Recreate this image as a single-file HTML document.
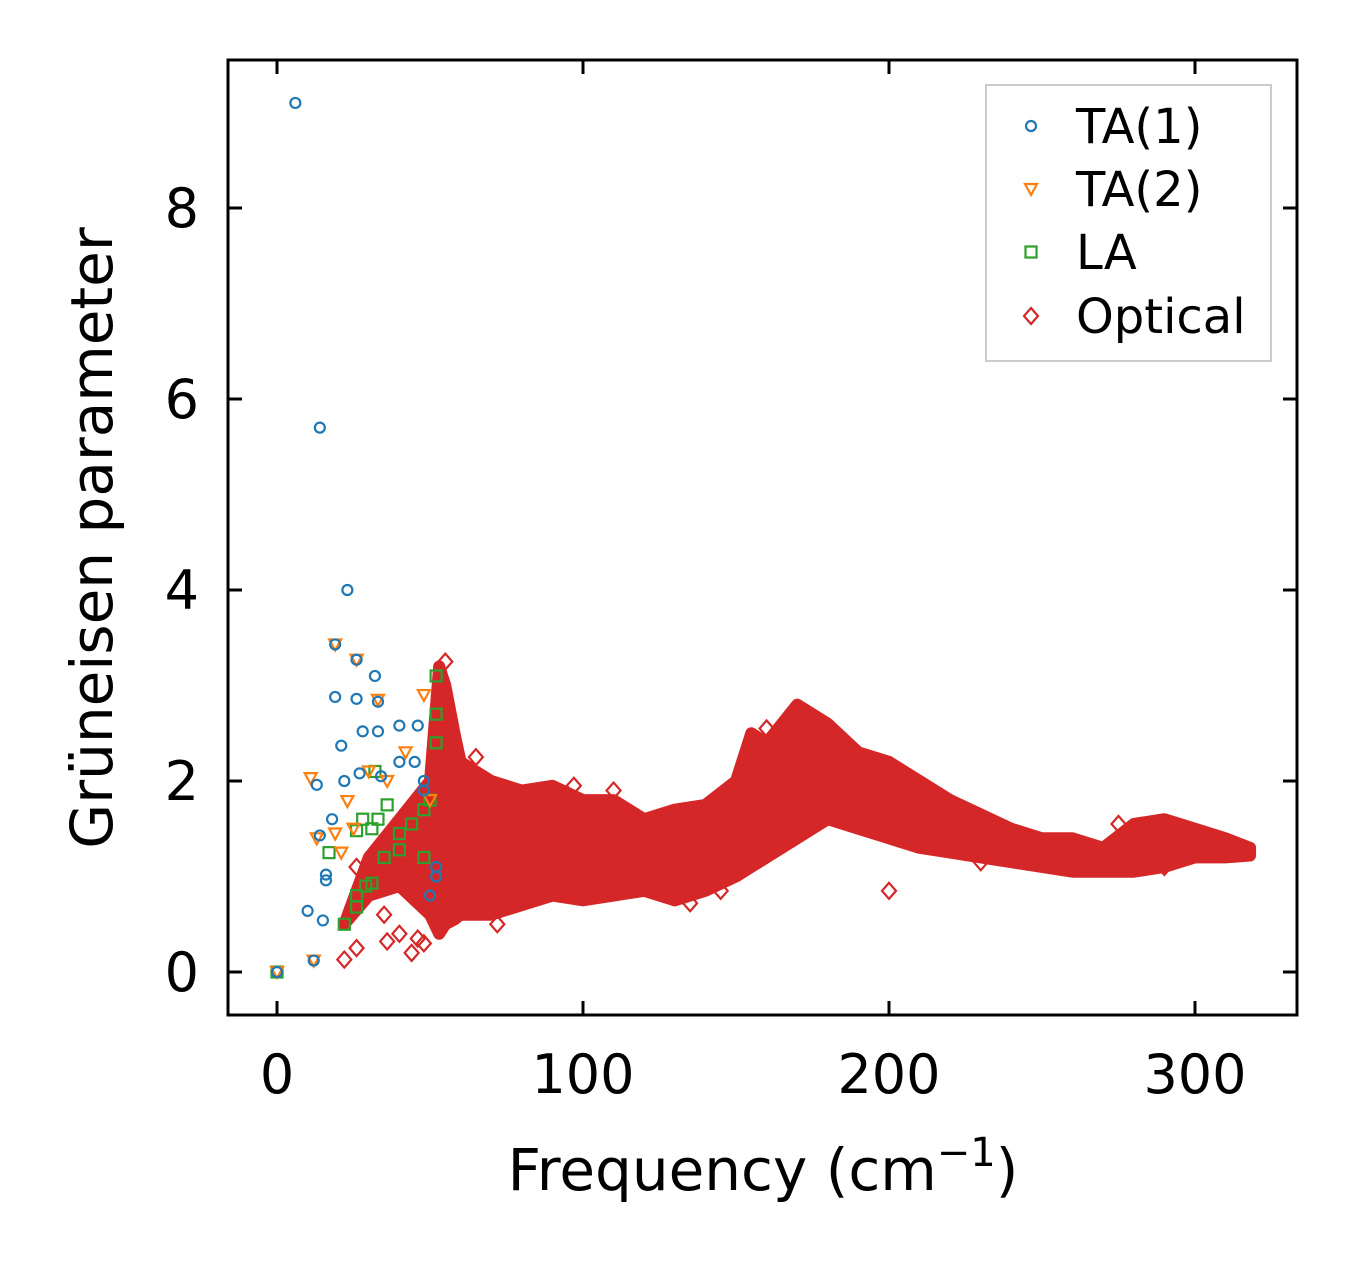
<!DOCTYPE html>
<html><head><meta charset="utf-8"><style>
html,body{margin:0;padding:0;background:#fff;}
svg{display:block;font-family:"DejaVu Sans","Liberation Sans",sans-serif;}
</style></head><body>
<svg id="chart" width="1357" height="1264" viewBox="0 0 1357 1264">
<rect x="0" y="0" width="1357" height="1264" fill="#fff"/>
<g id="plot"></g>
<g id="axes"></g>
<text x="763" y="1190" text-anchor="middle" font-size="58">Frequency (cm<tspan dy="-24" font-size="40">−1</tspan><tspan dy="24">)</tspan></text>
<text transform="translate(112,538) rotate(-90)" text-anchor="middle" font-size="58">Grüneisen parameter</text>
<g>
<rect x="986" y="85" width="285" height="276" fill="#fff" stroke="#ccc" stroke-width="2"/>
<g id="legend-items"></g>
</g>
</svg>
<script>
const xTicks=[0,100,200,300];
const yTicks=[0,2,4,6,8];
const optFreq=[22,30,40,50,53,55,58,60,70,80,90,100,110,120,130,140,150,155,160,170,180,190,200,210,220,230,240,250,260,270,280,290,300,310,318];
const optLow =[0.5,0.8,0.9,0.6,0.4,0.5,0.55,0.6,0.6,0.7,0.8,0.75,0.8,0.85,0.75,0.85,1.0,1.1,1.2,1.4,1.6,1.5,1.4,1.3,1.25,1.2,1.15,1.1,1.05,1.05,1.05,1.1,1.2,1.2,1.22];
const optHigh=[0.5,1.2,1.6,2.0,3.2,3.0,2.5,2.2,2.0,1.9,1.95,1.8,1.8,1.6,1.7,1.75,2.0,2.5,2.4,2.8,2.6,2.3,2.2,2.0,1.8,1.65,1.5,1.4,1.4,1.3,1.55,1.6,1.5,1.4,1.3];
const optPtsX=[22,26,36,40,44,46,35,30,26,25,48,55,65,72,97,110,135,145,160,200,230,275,290];
const optPtsY=[0.13,0.25,0.32,0.4,0.2,0.35,0.6,1.0,1.1,0.7,0.3,3.25,2.25,0.5,1.95,1.9,0.72,0.85,2.55,0.85,1.15,1.55,1.1];
const ta1X=[6,14,23,19,26,19,26,32,33,21,28,33,40,46,13,22,18,14,16,16,10,15,12,0,50,52,48,40,45,34,27,48,52];
const ta1Y=[9.1,5.7,4.0,3.43,3.27,2.88,2.86,3.1,2.83,2.37,2.52,2.52,2.58,2.58,1.96,2.0,1.6,1.43,1.02,0.96,0.64,0.54,0.12,0,0.8,1.1,2.0,2.2,2.2,2.05,2.08,1.9,1.0];
const ta2X=[0,12,11,13,23,21,30,36,42,48,50,25,19,33,19,26];
const ta2Y=[0,0.12,2.03,1.4,1.79,1.25,2.1,2.0,2.3,2.9,1.8,1.5,1.45,2.85,3.43,3.27];
const laX=[0,17,22,26,29,31,26,28,31,33,35,36,40,40,44,48,50,52,52,52,48,32,26];
const laY=[0,1.25,0.5,0.8,0.9,0.93,1.48,1.6,1.5,1.6,1.2,1.75,1.28,1.45,1.55,1.7,1.8,2.7,3.1,2.4,1.2,2.1,0.68];

const L=228,R=1297,T=60,B=1015;
const sx=v=>277+v*3.06, sy=v=>972-v*95.5;
const NS="http://www.w3.org/2000/svg";
const plot=document.getElementById('plot'), axes=document.getElementById('axes');
function mk(tag,attrs,parent){const e=document.createElementNS(NS,tag);for(const k in attrs)e.setAttribute(k,attrs[k]);parent.appendChild(e);return e;}
const C={b:'#1f77b4',o:'#ff7f0e',g:'#2ca02c',r:'#d62728'};
function marker(type,x,y,color,parent){
  let e;
  if(type==='c') e=mk('circle',{cx:x,cy:y,r:5,fill:'none',stroke:color,'stroke-width':2.2},parent);
  else if(type==='t') e=mk('polygon',{points:`${x-6},${y-5} ${x+6},${y-5} ${x},${y+6}`,fill:'none',stroke:color,'stroke-width':2.2},parent);
  else if(type==='s') e=mk('rect',{x:x-5.5,y:y-5.5,width:11,height:11,fill:'none',stroke:color,'stroke-width':2.2},parent);
  else e=mk('polygon',{points:`${x},${y-8} ${x+7},${y} ${x},${y+8} ${x-7},${y}`,fill:'none',stroke:color,'stroke-width':2.2},parent);
  return e;
}
let pts=[];
for(let i=0;i<optFreq.length;i++)pts.push(sx(optFreq[i])+','+sy(optHigh[i]));
for(let i=optFreq.length-1;i>=0;i--)pts.push(sx(optFreq[i])+','+sy(optLow[i]));
const band=mk('polygon',{points:pts.join(' '),fill:C.r,stroke:C.r,'stroke-width':12,'stroke-linejoin':'round'},plot);


for(let i=0;i<optPtsX.length;i++){const m=marker('d',sx(optPtsX[i]),sy(optPtsY[i]),C.r,plot);

}
for(let i=0;i<laX.length;i++){const m=marker('s',sx(laX[i]),sy(laY[i]),C.g,plot);

}
for(let i=0;i<ta2X.length;i++){const m=marker('t',sx(ta2X[i]),sy(ta2Y[i]),C.o,plot);

}
for(let i=0;i<ta1X.length;i++){const m=marker('c',sx(ta1X[i]),sy(ta1Y[i]),C.b,plot);

}
mk('rect',{x:L,y:T,width:R-L,height:B-T,fill:'none',stroke:'#000','stroke-width':3},axes);
xTicks.forEach(v=>{const x=sx(v);
 mk('line',{x1:x,x2:x,y1:B,y2:B-14,stroke:'#000','stroke-width':3},axes);
 mk('line',{x1:x,x2:x,y1:T,y2:T+14,stroke:'#000','stroke-width':3},axes);
 const t=mk('text',{x:x,y:1093,'text-anchor':'middle','font-size':54},axes);t.textContent=v;
 
 });
yTicks.forEach(v=>{const y=sy(v);
 mk('line',{x1:L,x2:L+14,y1:y,y2:y,stroke:'#000','stroke-width':3},axes);
 mk('line',{x1:R,x2:R-14,y1:y,y2:y,stroke:'#000','stroke-width':3},axes);
 const t=mk('text',{x:199,y:y+19,'text-anchor':'end','font-size':54},axes);t.textContent=v;
 
 });
const lg=document.getElementById('legend-items');
[['c',C.b,'TA(1)',126],['t',C.o,'TA(2)',189],['s',C.g,'LA',252],['d',C.r,'Optical',316]].forEach(([ty,c,lab,y])=>{
 const g=mk('g',{},lg);
 
 
 marker(ty,1031,y,c,g);
 const t=mk('text',{x:1076,y:y+17,'font-size':48},g);t.textContent=lab;});
</script>
</body></html>
